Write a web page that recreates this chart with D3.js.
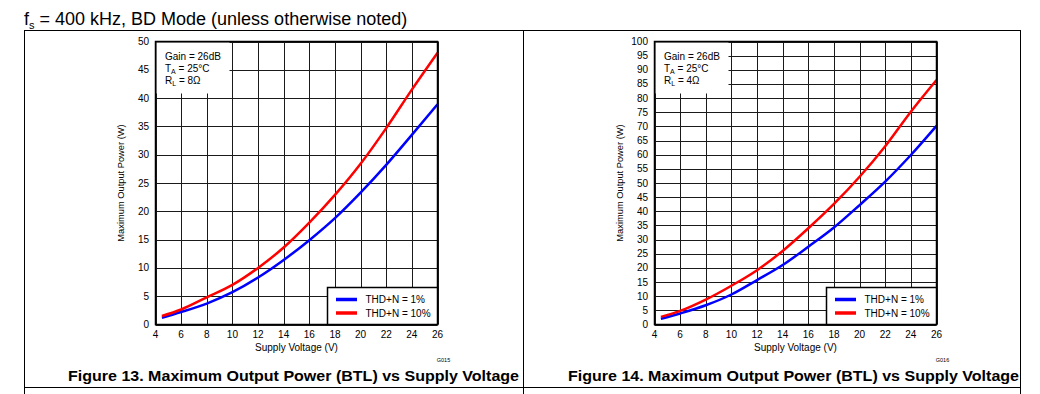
<!DOCTYPE html>
<html>
<head>
<meta charset="utf-8">
<script src="https://cdn.jsdelivr.net/npm/d3@7"></script>
<style>
  body { margin: 0; background: #fff; }
  svg { display: block; font-family: "Liberation Sans", Arial, sans-serif; }
</style>
</head>
<body>
<script>
// supply voltage (V) sample points
const voltage = [4.5, 6, 8, 10, 12, 14, 16, 18, 20, 22, 24, 26];

// Figure 13, RL = 8 ohm
const p8Thd1 = [1.2, 2.2, 3.7, 5.7, 8.3, 11.4, 14.9, 18.8, 23.3, 28.2, 33.5, 38.9];
const p8Thd10 = [1.5, 2.65, 4.8, 7.0, 10.0, 13.6, 18.0, 22.9, 28.4, 34.7, 41.5, 48.0];

// Figure 14, RL = 4 ohm
const p4Thd1 = [2.0, 3.9, 6.8, 10.6, 15.7, 21.0, 27.5, 34.3, 42.2, 50.5, 59.9, 70.2];
const p4Thd10 = [2.7, 4.8, 8.8, 13.7, 19.2, 26.0, 34.0, 42.6, 52.2, 63.0, 75.2, 86.4];

const xTicks = [4, 6, 8, 10, 12, 14, 16, 18, 20, 22, 24, 26];
const yTicks8 = [0, 5, 10, 15, 20, 25, 30, 35, 40, 45, 50];
const yTicks4 = [0, 5, 10, 15, 20, 25, 30, 35, 40, 45, 50, 55, 60, 65, 70, 75, 80, 85, 90, 95, 100];

const seriesNames = ["THD+N = 1%", "THD+N = 10%"];
const seriesColors = ["#0000ff", "#ff0000"];

const W = 1040, H = 394;

const svg = d3.select("body").append("svg").attr("width", W).attr("height", H);

// header
const head = svg.append("text").attr("x", 24).attr("y", 25)
  .style("font-size", "18px").attr("fill", "#000");
head.append("tspan").text("f");
head.append("tspan").attr("dy", 4).style("font-size", "11px").text("s");
head.append("tspan").attr("dy", -4).text(" = 400 kHz, BD Mode (unless otherwise noted)");

// table frame
const frame = svg.append("g").attr("stroke", "#000").attr("stroke-width", 1).attr("fill", "none");
frame.append("line").attr("x1", 24).attr("x2", 1021).attr("y1", 30.5).attr("y2", 30.5);
frame.append("line").attr("x1", 24).attr("x2", 1021).attr("y1", 387.5).attr("y2", 387.5);
[24.5, 523.5, 1020.5].forEach((x) => {
  frame.append("line").attr("x1", x).attr("x2", x).attr("y1", 30).attr("y2", H);
});

const drawChart = (opts) => {
  const x = d3.scaleLinear().domain([4, 26]).range([opts.left, opts.right]);
  const y = d3.scaleLinear().domain([0, opts.yMax]).range([324.5, 41.5]);

  const g = svg.append("g");

  // grid
  g.append("g").selectAll("line").data(xTicks).enter().append("line")
    .attr("x1", (d) => Math.round(x(d)) + 0.5).attr("x2", (d) => Math.round(x(d)) + 0.5)
    .attr("y1", y(0)).attr("y2", y(opts.yMax))
    .attr("stroke", "#1a1a1a").attr("stroke-width", 1);
  g.append("g").selectAll("line").data(opts.yTicks).enter().append("line")
    .attr("x1", x(4)).attr("x2", x(26))
    .attr("y1", (d) => Math.round(y(d)) + 0.5).attr("y2", (d) => Math.round(y(d)) + 0.5)
    .attr("stroke", "#1a1a1a").attr("stroke-width", 1);

  // annotation box (covers the grid)
  g.append("rect").attr("x", x(4) + 1).attr("y", y(opts.yMax) + 1)
    .attr("width", 73).attr("height", 51).attr("fill", "#fff");
  const note = g.append("g").style("font-size", "10px").attr("fill", "#000");
  const nx = x(4) + 9.5;
  note.append("text").attr("x", nx).attr("y", 60).text("Gain = 26dB");
  const ta = note.append("text").attr("x", nx).attr("y", 71.5);
  ta.append("tspan").text("T");
  ta.append("tspan").attr("dy", 2.5).style("font-size", "7px").text("A");
  ta.append("tspan").attr("dy", -2.5).text(" = 25°C");
  const rl = note.append("text").attr("x", nx).attr("y", 83.5);
  rl.append("tspan").text("R");
  rl.append("tspan").attr("dy", 2.5).style("font-size", "7px").text("L");
  rl.append("tspan").attr("dy", -2.5).text(" = " + opts.load);

  // curves
  const line = d3.line()
    .x((d) => x(d[0]))
    .y((d) => y(d[1]))
    .curve(d3.curveMonotoneX);
  opts.series.forEach((s, i) => {
    g.append("path")
      .datum(voltage.map((v, k) => [v, s[k]]))
      .attr("d", line)
      .attr("fill", "none")
      .attr("stroke", seriesColors[i])
      .attr("stroke-width", 2.5);
  });

  // plot border
  g.append("rect").attr("x", x(4)).attr("y", y(opts.yMax))
    .attr("width", x(26) - x(4)).attr("height", y(0) - y(opts.yMax))
    .attr("fill", "none").attr("stroke", "#000").attr("stroke-width", 1.5);

  // legend
  const lg = g.append("g").attr("transform", `translate(${x(26) - 110},${y(0) - 37})`);
  lg.append("rect").attr("width", 110).attr("height", 37)
    .attr("fill", "#fff").attr("stroke", "#000").attr("stroke-width", 1.5);
  seriesNames.forEach((n, i) => {
    const ly = 12 + i * 13.5;
    lg.append("line").attr("x1", 8.5).attr("x2", 29.5).attr("y1", ly).attr("y2", ly)
      .attr("stroke", seriesColors[i]).attr("stroke-width", 3.5);
    lg.append("text").attr("x", 38).attr("y", ly + 3.6)
      .style("font-size", "10px").attr("fill", "#000").text(n);
  });

  // axes labels
  g.append("g").selectAll("text").data(xTicks).enter().append("text")
    .attr("x", (d) => x(d)).attr("y", 338).attr("text-anchor", "middle")
    .style("font-size", "10px").attr("fill", "#000").text((d) => d);
  g.append("g").selectAll("text").data(opts.yTicks).enter().append("text")
    .attr("x", x(4) - 6.5).attr("y", (d) => y(d) + 3.5).attr("text-anchor", "end")
    .style("font-size", "10px").attr("fill", "#000").text((d) => d);

  g.append("text").attr("x", (x(4) + x(26)) / 2).attr("y", 351).attr("text-anchor", "middle")
    .style("font-size", "10px").attr("fill", "#000").text("Supply Voltage (V)");
  g.append("text")
    .attr("transform", `translate(${x(4) - 32},${(y(0) + y(opts.yMax)) / 2}) rotate(-90)`)
    .attr("text-anchor", "middle")
    .style("font-size", "9.3px").attr("fill", "#000").text("Maximum Output Power (W)");

  g.append("text").attr("x", x(26) + 6).attr("y", 362).attr("text-anchor", "middle")
    .style("font-size", "5.5px").attr("fill", "#000").text(opts.code);

  // figure caption
  g.append("text").attr("x", opts.capX).attr("y", 381)
    .attr("textLength", 451).attr("lengthAdjust", "spacingAndGlyphs")
    .style("font-size", "15.5px").style("font-weight", "bold").attr("fill", "#000")
    .text(opts.caption);
};

drawChart({
  left: 155.5, right: 437.5, yMax: 50, yTicks: yTicks8,
  series: [p8Thd1, p8Thd10], load: "8Ω", code: "G015",
  capX: 68, caption: "Figure 13. Maximum Output Power (BTL) vs Supply Voltage"
});

drawChart({
  left: 654.5, right: 936.5, yMax: 100, yTicks: yTicks4,
  series: [p4Thd1, p4Thd10], load: "4Ω", code: "G016",
  capX: 568, caption: "Figure 14. Maximum Output Power (BTL) vs Supply Voltage"
});
</script>
</body>
</html>
